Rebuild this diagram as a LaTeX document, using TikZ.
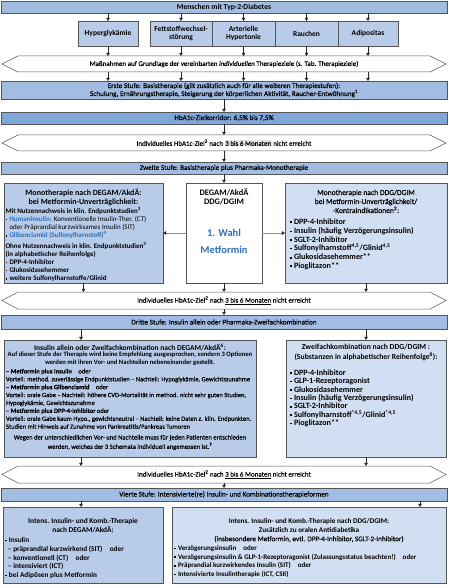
\documentclass[tikz,border=0pt]{standalone}
\usepackage{fontspec}
\setmainfont{Carlito}
\newfontfamily\semib{Carlito}[FakeBold=0.4]
\usetikzlibrary{arrows.meta,calc}
\definecolor{stagec}{HTML}{A2BCE2}
\definecolor{hbac}{HTML}{80A7DA}
\definecolor{rowc}{HTML}{B8CBE8}
\definecolor{degc}{HTML}{B8CCEA}
\definecolor{ddgc}{HTML}{D2DEF1}
\definecolor{bordc}{HTML}{555555}
\definecolor{bluet}{HTML}{2F6FB8}
\definecolor{hlc}{HTML}{E2E2E2}
\newcommand{\bul}{\raisebox{1.3pt}{\rule{1.6pt}{1.6pt}}\hspace{2.4pt}}
\newcommand{\fz}[2]{\fontsize{#1pt}{#2pt}\selectfont}
\newcommand{\greyhl}[1]{{\setlength{\fboxsep}{0.6pt}\colorbox{hlc}{#1}}}
\newcommand{\hexo}[1]{\draw[hexline] (#1.west) -- ($(#1.north west)+(16,0)$) -- ($(#1.north east)+(-16,0)$) -- (#1.east) -- ($(#1.south east)+(-16,0)$) -- ($(#1.south west)+(16,0)$) -- cycle;}
\begin{document}
\begin{tikzpicture}[x=1pt,y=-1pt,
  base/.style={inner sep=0pt,outer sep=0pt},
  bar/.style={base,draw=bordc,line width=0.5pt,fill=stagec,minimum width=446pt,align=center,font=\semib\fz{7.2}{8}},
  rowbox/.style={base,draw=bordc,line width=0.5pt,fill=rowc,minimum height=25pt,align=center,font=\bfseries\fz{7.5}{8.7}},
  hexbox/.style={base,minimum width=444pt,minimum height=16pt,font=\semib\fz{7}{8}},
  hexline/.style={draw=bordc,line width=0.5pt},
  panel/.style={base,draw=bordc,line width=0.5pt},
  txt/.style={base,align=left,anchor=north west},
  ctxt/.style={base,align=center,anchor=north},
  arr/.style={draw=black!85,line width=0.5pt,-{Triangle[length=3.2pt,width=3.6pt]}},
  link/.style={draw=black!45,line width=0.5pt,-{Triangle[length=3.2pt,width=3.6pt,color=black!85]}}
]
\useasboundingbox (0,0) rectangle (448,588);
\coordinate (xL) at (81,0);
\coordinate (xR) at (366,0);
\coordinate (xRf) at (420,0);

\node[bar,minimum height=12pt,font=\bfseries\fz{7.6}{8}] (mensch) at (224,7.5) {Menschen mit Typ-2-Diabetes};

\node[rowbox,minimum width=60pt] (hyper) at (108,33.5) {Hyperglykämie};
\node[rowbox,minimum width=62pt] (fett) at (181,33.5) {Fettstoffwechsel-\\störung};
\node[rowbox,minimum width=63pt] (art) at (243.5,33.5) {Arterielle\\Hypertonie};
\node[rowbox,minimum width=63pt] (rauch) at (306.5,33.5) {Rauchen};
\node[rowbox,minimum width=60pt] (adip) at (368,33.5) {Adipositas};

\node[hexbox] (mass) at (224,64) {Maßnahmen auf Grundlage der vereinbarten \textit{individuellen} Therapieziele (s. Tab. Therapieziele)};
\hexo{mass}

\node[bar,minimum height=18pt] (erste) at (224,90) {Erste Stufe: Basistherapie (gilt zusätzlich auch für alle weiteren Therapiestufen):\\Schulung, Ernährungstherapie, Steigerung der körperlichen Aktivität, Raucher-Entwöhnung\textsuperscript{1}};

\node[bar,fill=hbac,minimum height=12pt] (hba) at (224,118) {HbA1c-Zielkorridor: 6,5\% bis 7,5\%};

\node[hexbox] (hex1) at (224,143) {Individuelles HbA1c-Ziel\textsuperscript{2} nach \greyhl{3 bis 6 Monaten} nicht erreicht};
\hexo{hex1}

\node[bar,minimum height=12pt] (zweite) at (224,168) {Zweite Stufe: Basistherapie plus Pharmaka-Monotherapie};

% second stage panels
\node[panel,fill=degc,minimum width=159pt,minimum height=100pt] (lmono) at (83.5,233) {};
\node[panel,fill=white,minimum width=76pt,minimum height=100pt] (mmono) at (224,233) {};
\node[panel,fill=ddgc,minimum width=162pt,minimum height=100pt] (rmono) at (366,233) {};

\node[ctxt,font=\bfseries\fz{8}{9}] (lmonoh) at (83.5,188.8) {\strut Monotherapie nach DEGAM/AkdÄ:\\bei Metformin-Unverträglichkeit:};
\node[txt,font=\fz{7}{8.2}] (lmonob) at (5.5,207.1) {\strut\textbf{Mit Nutzennachweis in klin. Endpunktstudien\textsuperscript{3}}\\
\bul\textcolor{bluet}{\textbf{Humaninsulin:}} Konventionelle Insulin-Ther. (CT)\\
\hphantom{\bul}oder Präprandial kurzwirksames Insulin (SIT)\\
\bul\textcolor{bluet}{\textbf{Glibenclamid (Sulfonylharnstoff)\textsuperscript{4}}}\\[2pt]
\textbf{Ohne Nutzennachweis in klin. Endpunktstudien\textsuperscript{3}}\\
\textbf{(in alphabetischer Reihenfolge)}\\
\bul\textbf{DPP-4-Inhibitor}\\
\bul\textbf{Glukosidasehemmer}\\
\bul\textbf{weitere Sulfonylharnstoffe/Glinid}};

\node[ctxt,font=\bfseries\fz{8.4}{9}] (mmonoh) at (224,188.9) {\strut DEGAM/AkdÄ\\DDG/DGIM};
\node[base,font=\bfseries\fz{10.5}{12},text=bluet] (wahl) at (224,233) {1. Wahl};
\node[base,font=\bfseries\fz{10.5}{12},text=bluet] (metf) at (224,250) {Metformin};

\node[ctxt,font=\semib\fz{7.6}{9}] (rmonoh) at (366,188.7) {\strut Monotherapie nach DDG/DGIM\\bei Metformin-Unverträglichkeit/\\-Kontraindikationen\textsuperscript{2}:};
\node[txt,font=\bfseries\fz{8.1}{8.4}] (rmonob) at (290,218.2) {\strut\bul DPP-4-Inhibitor\\ \bul Insulin (häufig Verzögerungsinsulin)\\ \bul SGLT-2-Inhibitor\\ \bul Sulfonylharnstoff\textsuperscript{4,5}/Glinid\textsuperscript{4,5}\\[1pt] \bul Glukosidasehemmer**\\ \bul Pioglitazon**};

\node[hexbox,minimum height=17pt] (hex2) at (224,300.5) {Individuelles HbA1c-Ziel\textsuperscript{2} nach \underline{3 bis 6 Monaten} nicht erreicht};
\hexo{hex2}

\node[bar,minimum height=14pt] (dritte) at (224,322) {Dritte Stufe: Insulin allein oder Pharmaka-Zweifachkombination};

% third stage panels
\node[panel,fill=degc,minimum width=252pt,minimum height=117pt] (lthree) at (130,398.5) {};
\node[base,font=\bfseries\fz{7.5}{8}] (lthreeh) at (130,347) {Insulin allein oder Zweifachkombination nach DEGAM/AkdÄ\textsuperscript{6}:};
\node[ctxt,font=\bfseries\fz{6.6}{7.9}] (lthrees) at (130,351.4) {\strut Auf dieser Stufe der Therapie wird keine Empfehlung ausgesprochen, sondern 3 Optionen\\werden mit ihren Vor- und Nachteilen nebeneinander gestellt.};
\node[txt,font=\semib\fz{6.5}{7.9}] (lthreeb) at (6,367.9) {\strut\textbf{– Metformin plus Insulin}\quad oder\\ Vorteil: method. zuverlässige Endpunktstudien – Nachteil: Hypoglykämie, Gewichtszunahme\\ \textbf{– Metformin plus Glibenclamid}\quad oder\\ Vorteil: orale Gabe – Nachteil: höhere CVD-Mortalität in method. nicht sehr guten Studien,\\ Hypoglykämie, Gewichtszunahme\\ \textbf{– Metformin plus DPP-4-Inhibitor} oder\\ Vorteil: orale Gabe kaum Hypo., gewichtsneutral – Nachteil: keine Daten z. klin. Endpunkten.\\ Studien mit Hinweis auf Zunahme von Pankreatitis/Pankreas Tumoren};
\node[ctxt,font=\semib\fz{6.6}{7.9}] (lthreef) at (130,434) {\strut Wegen der unterschiedlichen Vor- und Nachteile muss für jeden Patienten entschieden\\werden, welches der 3 Schemata individuell angemessen ist.\textsuperscript{7}};

\node[panel,fill=ddgc,minimum width=160pt,minimum height=117pt] (rthree) at (366,398.5) {};
\node[ctxt,font=\bfseries\fz{7.7}{8.6}] (rthreeh) at (366,343.3) {\strut Zweifachkombination nach DDG/DGIM :\\(Substanzen in alphabetischer Reihenfolge\textsuperscript{8}):};
\node[txt,font=\bfseries\fz{8.1}{8.4}] (rthreeb) at (290,369.5) {\strut\bul DPP-4-Inhibitor\\ \bul GLP-1-Rezeptoragonist\\ \bul Glukosidasehemmer\\ \bul Insulin (häufig Verzögerungsinsulin)\\ \bul SGLT-2-Inhibitor\\ \bul Sulfonylharnstoff\textsuperscript{*4,5}/Glinid\textsuperscript{*4,5}\\ \bul Pioglitazon**};

\node[hexbox,minimum height=17pt] (hex3) at (224,474.5) {Individuelles HbA1c-Ziel\textsuperscript{2} nach \underline{3 bis 6 Monaten} nicht erreicht};
\hexo{hex3}

\node[bar,minimum height=13pt] (vierte) at (224,494.5) {Vierte Stufe: Intensivierte(re) Insulin- und Kombinationstherapieformen};

% fourth stage panels
\node[panel,fill=degc,minimum width=160pt,minimum height=76pt] (lfour) at (83,545) {};
\node[ctxt,font=\bfseries\fz{7.4}{9}] (lfourh) at (83,516.9) {\strut Intens. Insulin- und Komb.-Therapie\\nach DEGAM/AkdÄ:};
\node[txt,font=\bfseries\fz{7.3}{8.7}] (lfourb) at (5,536.6) {\strut\bul Insulin\\ \hspace{3pt}– präprandial kurzwirkend (SIT)\quad oder\\ \hspace{3pt}– konventionell (CT)\quad oder\\ \hspace{3pt}– intensiviert (ICT)\\ \bul bei Adipösen plus Metformin};

\node[panel,fill=ddgc,minimum width=274pt,minimum height=76pt] (rfour) at (309,545) {};
\node[ctxt,font=\fz{7.2}{9}] (rfourh) at (309,516.9) {\strut\textbf{Intens. Insulin- und Komb.-Therapie nach DDG/DGIM:}\\ \textbf{Zusätzlich zu oralen Antidiabetika}\\ {\semib (insbesondere Metformin, evtl. DPP-4-Inhibitor, SGLT-2-Inhibitor)}};
\node[txt,font=\bfseries\fz{7}{8.7}] (rfourb) at (174,544.5) {\strut\bul Verzögerungsinsulin\quad oder\\ \bul Verzögerungsinsulin \& GLP-1-Rezeptoragonist (Zulassungsstatus beachten!)\quad oder\\ \bul Präprandial kurzwirkendes Insulin (SIT)\quad oder\\ \bul Intensivierte Insulintherapie (ICT, CSII)};

% connectors
\foreach \b in {hyper,fett,art,rauch,adip} {
  \draw[arr] (mensch.south -| \b.north) -- (\b.north);
  \draw[arr] (\b.south) -- (\b.south |- mass.north);
  \draw[arr] (\b.south |- mass.south) -- (\b.south |- erste.north);
}
\draw[arr] (erste.south) -- (hba.north);
\draw[arr] (hba.south) -- (hex1.north);
\draw[arr] (hex1.south) -- (zweite.north);
\draw[arr] (zweite.south) -- (mmono.north);
\draw[link] (mmono.west) -- (lmono.east);
\draw[link] (mmono.east) -- (rmono.west);
\draw[arr] (lmono.south) -- (lmono.south |- hex2.north);
\draw[arr] (mmono.south) -- (hex2.north);
\draw[arr] (rmono.south) -- (rmono.south |- hex2.north);
\draw[arr] (hex2.south) -- (dritte.north);
\draw[arr] (xL |- dritte.south) -- (xL |- lthree.north);
\draw[arr] (xR |- dritte.south) -- (xR |- rthree.north);
\draw[arr] (xL |- lthree.south) -- (xL |- hex3.north);
\draw[arr] (xR |- rthree.south) -- (xR |- hex3.north);
\draw[arr] (hex3.south) -- (vierte.north);
\draw[arr] (xL |- vierte.south) -- (xL |- lfour.north);
\draw[arr] (xRf |- vierte.south) -- (xRf |- rfour.north);
\end{tikzpicture}
\end{document}
